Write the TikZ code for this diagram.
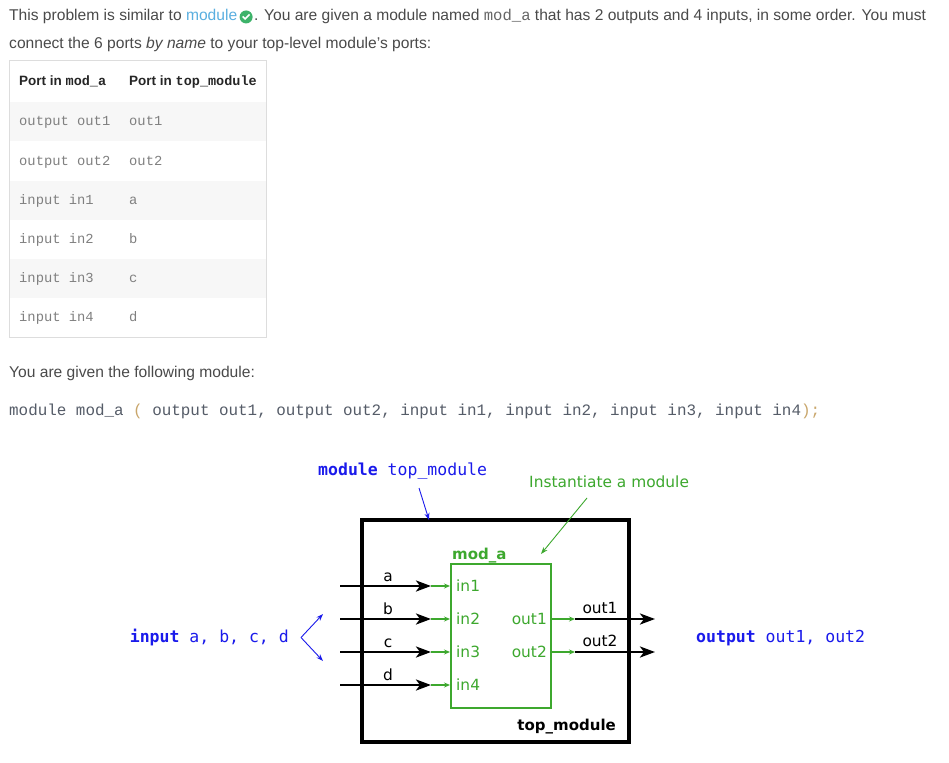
\documentclass[tikz,border=0pt]{standalone}
\usepackage{fontspec}
\setmainfont{Liberation Sans}
\setmonofont{Liberation Mono}
\newfontfamily\dejasans{DejaVu Sans}
\newfontfamily\dejamono{DejaVu Sans Mono}
\usetikzlibrary{arrows.meta,positioning}
\definecolor{bodytext}{HTML}{4A4A4A}
\definecolor{codegray}{HTML}{555C68}
\definecolor{codeparen}{HTML}{C9A66B}
\definecolor{linkblue}{HTML}{5AAFE0}
\definecolor{checkgreen}{HTML}{3DB36A}
\definecolor{tableline}{HTML}{DDDDDD}
\definecolor{tableshade}{HTML}{F7F7F7}
\definecolor{modgreen}{HTML}{3DA82E}
\definecolor{noteblue}{HTML}{1A1AEB}
\tikzset{
  bodyline/.style={anchor=base west,inner sep=0pt,text=bodytext,font=\fontsize{15.6}{18}\selectfont},
  cellhead/.style={anchor=base west,inner sep=0pt,text=black!85,font=\fontsize{13.5}{16}\selectfont\bfseries},
  cellcode/.style={anchor=base west,inner sep=0pt,text=black!50,font=\fontsize{13.8}{16}\ttfamily},
  wirelabel/.style={anchor=base,inner sep=0pt,font=\dejasans\fontsize{15.4}{18}\selectfont},
  portlabel/.style={inner sep=0pt,text=modgreen,font=\dejasans\fontsize{15.4}{18}\selectfont},
  note/.style={inner sep=0pt,text=noteblue,font=\dejamono\fontsize{16.5}{19}\selectfont},
  bigwire/.style={line width=2.6pt,-{Stealth[length=15pt,width=11pt,inset=4pt]}},
  portwire/.style={modgreen,line width=1.2pt,-{Stealth[length=6pt,width=5pt]}},
  pointer/.style={line width=0.9pt,-{Stealth[length=7pt,width=5pt]}}
}
\begin{document}
\begin{tikzpicture}[x=1pt,y=-1pt]
  \fill[white] (0,0) rectangle (949,762);
  \useasboundingbox (0,0) rectangle (949,762);

  % intro text
  \node[bodyline] (introA) at (9,21) {This problem is similar to \textcolor{linkblue}{module}};
  \node[circle,fill=checkgreen,minimum size=13pt,inner sep=0pt,right=2pt of introA.east] (tick) {};
  \draw[white,line width=1.6pt] (tick.center) ++(-3.5,-0.5) -- ++(2.5,2.5) -- ++(4.5,-4.5);
  \node[bodyline] (introB) at ([xshift=1pt]tick.east |- introA.base)
    {. You are given a module named {\color{black!60}\ttfamily mod\_a} that has 2 outputs and 4 inputs, in some order. You must};
  \node[bodyline] (introC) at (9,49) {connect the 6 ports \textit{by name} to your top-level module's ports:};

  % port table
  \foreach \top in {102,181,259}
    \fill[tableshade] (10,\top) rectangle (266,\top+39);
  \draw[tableline] (9.5,60.5) rectangle (266.5,337.5);
  \node[cellhead] (headA) at (19,86) {Port in \texttt{mod\_a}};
  \node[cellhead] (headB) at (129,86) {Port in \texttt{top\_module}};
  \foreach \i/\port/\conn in {1/output out1/out1,2/output out2/out2,3/input in1/a,
                              4/input in2/b,5/input in3/c,6/input in4/d}{
    \node[cellcode] (port\i) at (19,87+39*\i) {\port};
    \node[cellcode] (conn\i) at (129,87+39*\i) {\conn};
  }

  \node[bodyline] (given) at (9,377) {You are given the following module:};
  \node[anchor=base west,inner sep=0pt,text=codegray,font=\fontsize{15.9}{19}\ttfamily] (decl) at (9,415)
    {module mod\_a \textcolor{codeparen}{(} output out1, output out2, input in1, input in2, input in3, input in4\textcolor{codeparen}{);}};

  % top_module and mod_a
  \node[draw,line width=4pt,minimum width=267pt,minimum height=222pt,inner sep=0pt] (topbox) at (495.5,631) {};
  \node[draw=modgreen,line width=2pt,minimum width=100pt,minimum height=144pt,inner sep=0pt] (modbox) at (501,636) {};
  \node[anchor=base west,inner sep=0pt,text=modgreen,font=\dejasans\bfseries\fontsize{15}{18}\selectfont] (modname) at (452,559) {mod\_a};
  \node[anchor=base east,inner sep=0pt,font=\dejasans\bfseries\fontsize{15}{18}\selectfont] (topname) at (616,730) {top\_module};

  % inputs
  \foreach \i/\name in {1/a,2/b,3/c,4/d}{
    \coordinate (src\i) at (340,553+33*\i);
    \coordinate (tip\i) at (431,553+33*\i);
    \node[portlabel,anchor=west] (in\i) at (456,553+33*\i) {in\i};
    \draw[bigwire] (src\i) -- (tip\i);
    \draw[portwire] (tip\i) -- (modbox.west |- in\i);
    \node[wirelabel] (wire\name) at (388,548+33*\i) {\name};
  }

  % outputs
  \foreach \i in {1,2}{
    \node[portlabel,anchor=east] (out\i) at (547,586+33*\i) {out\i};
    \coordinate (mid\i) at (575,586+33*\i);
    \coordinate (dst\i) at (655,586+33*\i);
    \draw[portwire] (modbox.east |- out\i) -- (mid\i);
    \draw[bigwire] (mid\i) -- (dst\i);
    \node[wirelabel] (outwire\i) at (600,580+33*\i) {out\i};
  }

  % notes
  \node[note,anchor=base west] (topnote) at (318,475) {\textbf{module} top\_module};
  \node[note,anchor=base east] (innote) at (289,642) {\textbf{input} a, b, c, d};
  \node[note,anchor=base west] (outnote) at (696,642) {\textbf{output} out1, out2};
  \node[anchor=base west,inner sep=0pt,text=modgreen,font=\dejasans\fontsize{15.4}{18}\selectfont] (instnote) at (529,487) {Instantiate a module};

  \coordinate (toptail) at (419,488);
  \coordinate (toptip) at (429,520);
  \draw[pointer,noteblue] (toptail) -- (toptip);
  \coordinate (insttail) at (587,498);
  \coordinate (insttip) at (541,554);
  \draw[pointer,modgreen] (insttail) -- (insttip);
  \coordinate (fork) at (301,637.5);
  \coordinate (forkup) at (323,614);
  \coordinate (forkdown) at (323,661);
  \draw[pointer,noteblue] (fork) -- (forkup);
  \draw[pointer,noteblue] (fork) -- (forkdown);
\end{tikzpicture}
\end{document}
